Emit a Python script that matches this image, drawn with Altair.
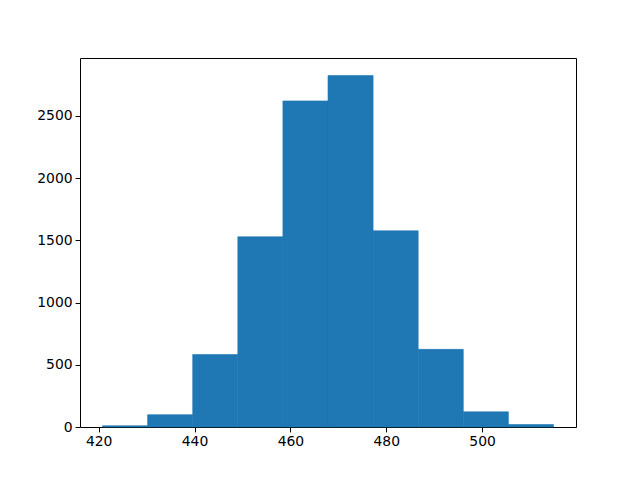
import altair as alt
import pandas as pd

bin_start = [420.8, 430.21, 439.62, 449.03, 458.44, 467.85, 477.26, 486.67, 496.08, 505.49]
bin_end = [430.21, 439.62, 449.03, 458.44, 467.85, 477.26, 486.67, 496.08, 505.49, 514.9]
counts = [10, 99, 583, 1529, 2621, 2825, 1577, 624, 122, 20]
x_ticks = [420, 440, 460, 480, 500]
y_ticks = [0, 500, 1000, 1500, 2000, 2500]

df = pd.DataFrame({"start": bin_start, "end": bin_end, "count": counts})

axis_common = dict(
    grid=False,
    domain=False,
    tickColor="black",
    tickSize=4.9,
    tickWidth=1,
    labelFont="DejaVu Sans",
    labelFontSize=13.9,
    labelColor="black",
    labelPadding=3,
    title=None,
    format="d",
)

chart = alt.Chart(df).mark_rect(color="#1f77b4", stroke="#1f77b4", strokeWidth=0.6).encode(
    x=alt.X("start:Q",
            scale=alt.Scale(domain=[416.1, 519.6], nice=False, zero=False),
            axis=alt.Axis(values=x_ticks, **axis_common)),
    x2="end:Q",
    y=alt.Y("count:Q",
            scale=alt.Scale(domain=[0, 2966], nice=False),
            axis=alt.Axis(values=y_ticks, **axis_common)),
    y2=alt.datum(0),
).properties(
    width=496,
    height=369,
    autosize=alt.AutoSizeParams(type="none"),
    padding={"left": 72, "top": 50, "right": 56, "bottom": 45},
).configure_view(
    stroke="black",
    strokeWidth=1,
)

chart.save("out.html", embed_options={"renderer": "svg", "actions": False})
